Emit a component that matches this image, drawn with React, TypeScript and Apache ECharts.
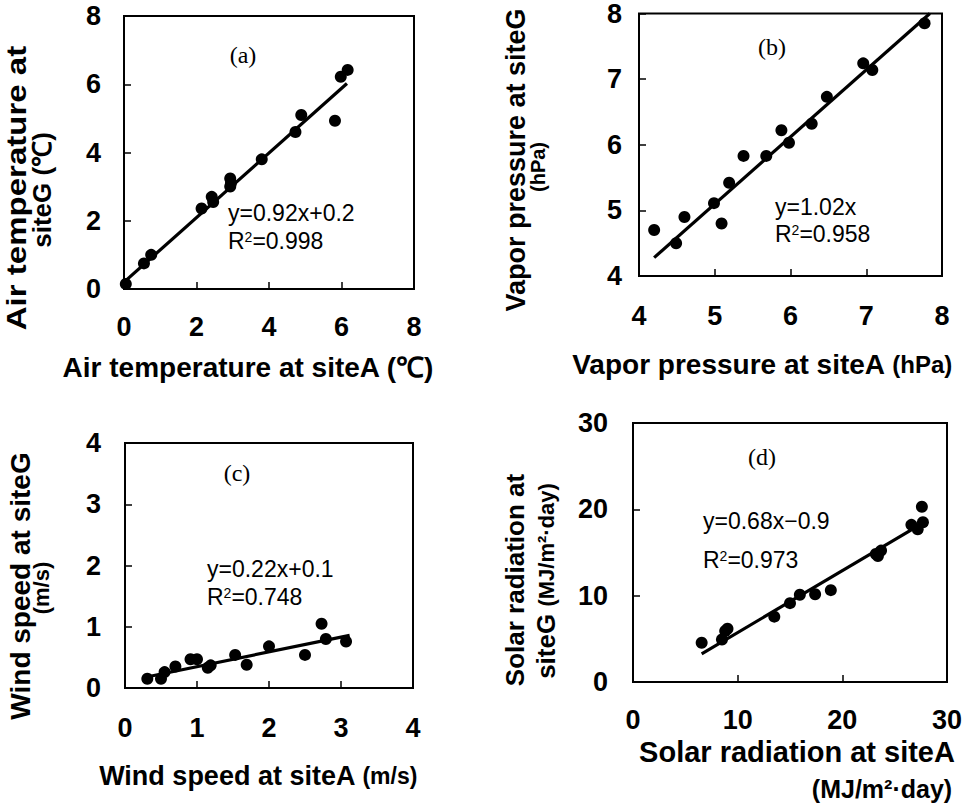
import React, { useEffect, useRef } from "react";
import * as echarts from "echarts";

// ---- Data ----
const pointsA: number[][] = [
  [0.05, 0.15], [0.55, 0.75], [0.75, 1.0], [2.14, 2.36], [2.42, 2.7], [2.46, 2.55],
  [2.93, 3.24], [2.93, 3.0], [2.95, 3.1], [3.8, 3.8], [4.73, 4.6], [4.89, 5.1],
  [5.82, 4.93], [5.98, 6.22], [6.17, 6.42],
];
const fitA: number[][] = [[0, 0.2], [6.15, 6.02]];

const pointsB: number[][] = [
  [4.2, 4.7], [4.49, 4.5], [4.6, 4.9], [4.99, 5.11], [5.09, 4.8], [5.19, 5.42],
  [5.38, 5.83], [5.68, 5.83], [5.88, 6.22], [5.98, 6.03], [6.28, 6.32], [6.48, 6.73],
  [6.96, 7.24], [7.08, 7.14], [7.77, 7.85],
];
const fitB: number[][] = [[4.2, 4.28], [7.84, 8.0]];

const pointsC: number[][] = [
  [0.31, 0.15], [0.5, 0.15], [0.55, 0.26], [0.7, 0.35], [0.91, 0.47], [1.0, 0.47],
  [1.15, 0.33], [1.19, 0.37], [1.53, 0.54], [1.69, 0.38], [2.0, 0.68], [2.5, 0.54],
  [2.73, 1.05], [2.79, 0.8], [3.07, 0.76],
];
const fitC: number[][] = [[0.3, 0.18], [3.12, 0.86]];

const pointsD: number[][] = [
  [6.56, 4.54], [8.5, 4.93], [8.81, 5.9], [9.03, 6.17], [13.5, 7.57], [15.0, 9.13],
  [15.94, 10.1], [17.4, 10.17], [18.9, 10.64], [23.2, 14.83], [23.7, 15.22], [23.4, 14.6],
  [26.6, 18.2], [27.2, 17.7], [27.7, 18.5], [27.6, 20.3],
];
const fitD: number[][] = [[6.56, 3.26], [27.4, 18.2]];

const ticksA = { min: 0, max: 8, interval: 2 };
const ticksB = { min: 4, max: 8, interval: 1 };
const ticksC = { min: 0, max: 4, interval: 1 };
const ticksD = { min: 0, max: 30, interval: 10 };

const equations = ["y=0.92x+0.2", "y=1.02x", "y=0.22x+0.1", "y=0.68x−0.9"];
const r2Values = ["0.998", "0.958", "0.748", "0.973"];
const panelLabels = ["(a)", "(b)", "(c)", "(d)"];

const SANS = "'Liberation Sans', Arial, sans-serif";
const SERIF = "'Liberation Serif', 'Times New Roman', serif";

function makeAxis(gridIndex: number, t: { min: number; max: number; interval: number }, margin: number) {
  return {
    type: "value",
    gridIndex,
    min: t.min,
    max: t.max,
    interval: t.interval,
    axisLine: { show: false },
    axisTick: { show: true, inside: true, length: 7, lineStyle: { color: "#000", width: 1.5 } },
    axisLabel: { margin, color: "#000", fontSize: 27, fontWeight: "bold", fontFamily: SANS },
    splitLine: { show: false },
  };
}

function txt(x: number, y: number, text: string, opts: any = {}) {
  const { rotation, scaleX, rich, fontSize = 27, fontWeight = "bold", fontFamily = SANS, align = "center" } = opts;
  const el: any = {
    type: "text",
    x,
    y,
    style: {
      text,
      fill: "#000",
      fontSize,
      fontWeight,
      fontFamily,
      align,
      textAlign: align,
      verticalAlign: "middle",
      textVerticalAlign: "middle",
      rich,
    },
  };
  if (rotation) el.rotation = rotation;
  if (scaleX) el.scaleX = scaleX;
  return el;
}

export default function App() {
  const ref = useRef<HTMLDivElement>(null);
  useEffect(() => {
    if (!ref.current) return;
    const chart = echarts.init(ref.current, null, { renderer: "svg" });
    const grids = [
      { left: 124, top: 16, width: 290, height: 273 },
      { left: 639, top: 13, width: 303, height: 263 },
      { left: 125, top: 443, width: 288, height: 245 },
      { left: 633, top: 423, width: 314, height: 259 },
    ].map((g) => ({ ...g, show: true, borderColor: "#000", borderWidth: 2, backgroundColor: "transparent" }));

    const xAxes = [
      makeAxis(0, ticksA, 24),
      makeAxis(1, ticksB, 26),
      makeAxis(2, ticksC, 26),
      makeAxis(3, ticksD, 24),
    ];
    const yAxes = [
      makeAxis(0, ticksA, 23),
      makeAxis(1, ticksB, 17),
      makeAxis(2, ticksC, 24),
      makeAxis(3, ticksD, 25),
    ];

    const pts = [pointsA, pointsB, pointsC, pointsD];
    const fits = [fitA, fitB, fitC, fitD];
    const series: any[] = [];
    pts.forEach((p, i) => {
      series.push({
        type: "scatter",
        xAxisIndex: i,
        yAxisIndex: i,
        data: p,
        symbol: "circle",
        symbolSize: 12,
        itemStyle: { color: "#000", opacity: 1 },
        z: 3,
      });
      series.push({
        type: "line",
        xAxisIndex: i,
        yAxisIndex: i,
        data: fits[i],
        showSymbol: false,
        symbol: "none",
        lineStyle: { color: "#000", width: 3.2 },
        z: 2,
      });
    });

    const eqPos = [
      [228, 213, 241],
      [775, 207, 234],
      [207, 569, 597],
      [703, 521, 560],
    ];
    const labPos = [
      [243, 55],
      [772, 47],
      [237, 473],
      [762, 457],
    ];
    const eqRich = {
      n: { fontSize: 23, fontFamily: SANS, fill: "#000" },
      s: { fontSize: 14, fontFamily: SANS, fill: "#000", verticalAlign: "top", padding: [0, 0, 6, 0] },
    };
    const graphics: any[] = [];
    equations.forEach((e, i) => {
      const [x, y1, y2] = eqPos[i];
      graphics.push(txt(x, y1, e, { fontSize: 23, fontWeight: "normal", align: "left" }));
      graphics.push(
        txt(x, y2, `{n|R}{s|2}{n|=${r2Values[i]}}`, { fontSize: 23, fontWeight: "normal", align: "left", rich: eqRich })
      );
    });
    panelLabels.forEach((l, i) => {
      graphics.push(txt(labPos[i][0], labPos[i][1], l, { fontSize: 24, fontWeight: "normal", fontFamily: SERIF }));
    });

    const R = Math.PI / 2;
    const unitRich = (size: number) => ({
      b: { fontSize: size, fontWeight: "bold", fontFamily: SANS, fill: "#000" },
      u: { fontSize: size - 4, fontWeight: "bold", fontFamily: SANS, fill: "#000" },
    });
    // y axis titles
    graphics.push(txt(16, 188, "Air temperature at", { rotation: R, fontSize: 28, scaleX: 1.18 }));
    graphics.push(txt(42, 190, "siteG (℃)", { rotation: R, fontSize: 26 }));
    graphics.push(txt(516, 160, "Vapor pressure at siteG", { rotation: R, fontSize: 27 }));
    graphics.push(txt(538, 167, "(hPa)", { rotation: R, fontSize: 20 }));
    graphics.push(txt(20, 586, "Wind speed at siteG", { rotation: R, fontSize: 28 }));
    graphics.push(txt(41, 588, "(m/s)", { rotation: R, fontSize: 22 }));
    graphics.push(txt(515, 580, "Solar radiation at", { rotation: R, fontSize: 26 }));
    graphics.push(
      txt(546, 581, "{b|siteG }{u|(MJ/m²·day)}", { rotation: R, fontSize: 26, rich: unitRich(26) })
    );
    // x axis titles
    graphics.push(txt(248, 367, "Air temperature at siteA (℃)", { fontSize: 28 }));
    graphics.push(
      txt(762, 364, "{b|Vapor pressure at siteA }{u|(hPa)}", { fontSize: 28, rich: unitRich(28) })
    );
    graphics.push(
      txt(258, 776, "{b|Wind speed at siteA }{u|(m/s)}", { fontSize: 27, rich: unitRich(27) })
    );
    graphics.push(txt(797, 752, "Solar radiation at siteA", { fontSize: 29 }));
    graphics.push(txt(882, 789, "(MJ/m²·day)", { fontSize: 25 }));

    chart.setOption({
      animation: false,
      backgroundColor: "#fff",
      grid: grids,
      xAxis: xAxes,
      yAxis: yAxes,
      series,
      graphic: { elements: graphics },
    });
    return () => chart.dispose();
  }, []);
  return (
    <div
      ref={ref}
      style={{ position: "fixed", left: 0, top: 0, width: 972, height: 808, background: "#fff" }}
    />
  );
}
